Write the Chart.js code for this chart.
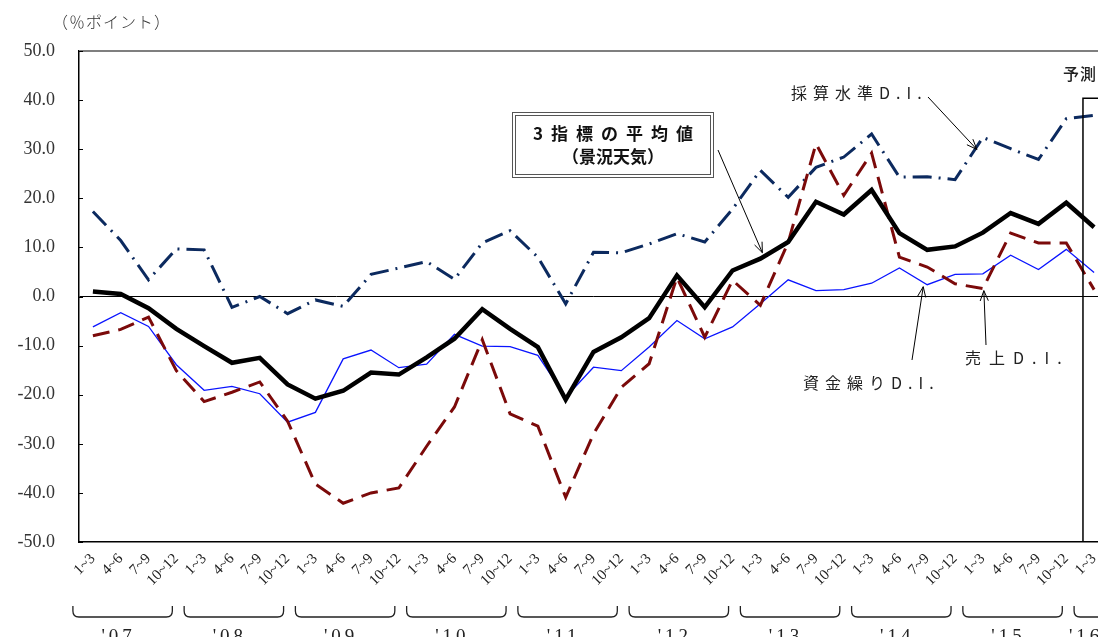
<!DOCTYPE html>
<html>
<head>
<meta charset="utf-8">
<script src="https://cdn.jsdelivr.net/npm/chart.js@4.4.1/dist/chart.umd.min.js"></script>
<style>
  html, body { margin: 0; padding: 0; background: #fff; overflow: hidden; }
  #wrap { width: 1108px; height: 637px; }
</style>
</head>
<body>
<div id="wrap"><canvas id="diChart" width="1108" height="637"></canvas></div>
<script>
// quarters from '07 1~3 to '16 1~3
const years = ["'07", "'08", "'09", "'10", "'11", "'12", "'13", "'14", "'15", "'16"];
const quarterNames = ['1~3', '4~6', '7~9', '10~12'];

// 3指標の平均値（景況天気）
const weather = [1.0, 0.5, -2.4, -6.6, -10.1, -13.5, -12.5, -17.9, -20.8, -19.2, -15.5, -15.9,
  -12.4, -8.6, -2.6, -6.6, -10.3, -21.0, -11.3, -8.3, -4.4, 4.3, -2.2, 5.3,
  7.7, 11.1, 19.3, 16.7, 21.7, 12.9, 9.5, 10.2, 13.0, 17.0, 14.8, 19.1, 14.1];
// 売上D.I.
const sales = [-8.0, -6.7, -4.2, -15.1, -21.4, -19.5, -17.4, -25.4, -38.2, -42.1, -40.0, -39.0,
  -30.5, -22.5, -8.8, -23.9, -26.4, -40.9, -28.0, -18.5, -13.7, 3.9, -8.3, 3.3,
  -1.8, 11.0, 31.1, 20.6, 29.2, 8.0, 6.0, 2.6, 1.6, 12.9, 10.9, 10.9, 1.4];
// 資金繰りD.I.
const cash = [-6.2, -3.3, -6.1, -13.9, -19.1, -18.3, -19.8, -25.6, -23.6, -12.7, -10.9, -14.5,
  -13.8, -7.7, -10.1, -10.2, -12.0, -20.5, -14.4, -15.1, -10.3, -4.9, -8.6, -6.2,
  -1.5, 3.4, 1.2, 1.4, 2.7, 5.8, 2.4, 4.5, 4.6, 8.4, 5.5, 9.6, 4.9];
// 採算水準D.I.
const profit = [17.3, 11.4, 3.4, 9.7, 9.5, -2.2, 0.0, -3.5, -0.7, -2.0, 4.5, 5.8,
  7.1, 3.5, 10.9, 13.4, 8.0, -1.5, 9.0, 8.9, 10.7, 12.8, 11.1, 17.8,
  25.7, 20.2, 26.3, 28.4, 33.1, 24.3, 24.4, 23.8, 32.4, 30.1, 27.9, 36.2, 36.9];

const labels = [];
years.forEach(y => quarterNames.forEach(q => labels.push(q)));
labels.length = weather.length;

const serif = '"Liberation Serif", "DejaVu Serif", serif';
const jp = '"Noto Sans CJK JP", sans-serif';

function arrow(ctx, x1, y1, x2, y2) {
  const a = Math.atan2(y2 - y1, x2 - x1);
  const h = 11, w = 0.38;
  ctx.beginPath();
  ctx.moveTo(x1, y1);
  ctx.lineTo(x2, y2);
  ctx.moveTo(x2 - h * Math.cos(a - w), y2 - h * Math.sin(a - w));
  ctx.lineTo(x2, y2);
  ctx.lineTo(x2 - h * Math.cos(a + w), y2 - h * Math.sin(a + w));
  ctx.stroke();
}

function label(ctx, text, x, y, size, spacing, weight) {
  ctx.font = (weight || 'normal') + ' ' + size + 'px ' + jp;
  ctx.letterSpacing = spacing + 'px';
  ctx.fillText(text, x, y);
  ctx.letterSpacing = '0px';
}

// frame, brackets, year labels and call-outs
const decorations = {
  id: 'decorations',
  afterDraw(chart) {
    const ctx = chart.ctx;
    const xs = chart.scales.x, ys = chart.scales.y;
    const area = chart.chartArea;
    const pt = (i, v) => [xs.getPixelForValue(i), ys.getPixelForValue(v)];
    ctx.save();

    // top border
    ctx.strokeStyle = '#7f7f7f';
    ctx.lineWidth = 2;
    ctx.beginPath();
    ctx.moveTo(area.left, area.top);
    ctx.lineTo(chart.width, area.top);
    ctx.stroke();

    // inward y ticks
    ctx.strokeStyle = '#000';
    ctx.lineWidth = 1;
    ys.ticks.forEach(t => {
      const y = Math.round(ys.getPixelForValue(t.value)) + 0.5;
      ctx.beginPath();
      ctx.moveTo(area.left, y);
      ctx.lineTo(area.left + 4, y);
      ctx.stroke();
    });

    // unit
    ctx.fillStyle = '#333';
    ctx.textAlign = 'left';
    ctx.textBaseline = 'middle';
    label(ctx, '（％ポイント）', 52, 22, 16, 1, '300');

    // year brackets
    ctx.strokeStyle = '#222';
    ctx.lineWidth = 1.3;
    const top = 606, bot = 617;
    years.forEach((yr, k) => {
      const first = k * 4;
      const last = Math.min(first + 3, labels.length - 1);
      const x1 = xs.getPixelForValue(first) - 20;
      const x2 = last > first ? xs.getPixelForValue(last) - 4 : x1 + 120;
      ctx.beginPath();
      ctx.moveTo(x1, top);
      ctx.lineTo(x1, bot - 6);
      ctx.quadraticCurveTo(x1, bot, x1 + 6, bot);
      ctx.lineTo(x2 - 6, bot);
      ctx.quadraticCurveTo(x2, bot, x2, bot - 6);
      ctx.lineTo(x2, top);
      ctx.stroke();
      ctx.fillStyle = '#222';
      ctx.textAlign = 'center';
      ctx.textBaseline = 'alphabetic';
      ctx.font = '19px ' + serif;
      ctx.letterSpacing = '4px';
      const cx = last > first ? (x1 + x2) / 2 - 4 : x1 + 12;
      ctx.fillText(yr, cx, 642);
      ctx.letterSpacing = '0px';
    });

    // forecast bracket
    const fx = xs.getPixelForValue(35.6);
    const fy = ys.getPixelForValue(40.4);
    ctx.strokeStyle = '#000';
    ctx.lineWidth = 1.5;
    ctx.beginPath();
    ctx.moveTo(fx, area.bottom);
    ctx.lineTo(fx, fy);
    ctx.lineTo(chart.width, fy);
    ctx.stroke();
    ctx.fillStyle = '#222';
    ctx.textAlign = 'left';
    ctx.textBaseline = 'middle';
    label(ctx, '予測', 1063, 74, 16, 1, '500');

    // average box
    ctx.strokeStyle = '#555';
    ctx.lineWidth = 1;
    ctx.strokeRect(512.5, 112.5, 201, 65);
    ctx.strokeRect(515.5, 115.5, 195, 59);
    ctx.fillStyle = '#111';
    ctx.textAlign = 'center';
    label(ctx, '3指標の平均値', 617, 134, 17, 8, 'bold');
    label(ctx, '（景況天気）', 613, 157, 17, 0, 'bold');

    ctx.strokeStyle = '#000';
    ctx.lineWidth = 1;
    let [px, py] = pt(24, weather[24]);
    arrow(ctx, 718, 150, px + 2, py - 6);

    ctx.fillStyle = '#222';
    ctx.textAlign = 'left';
    label(ctx, '採算水準D.I.', 791, 93, 16, 6);
    [px, py] = pt(32, profit[32]);
    arrow(ctx, 928, 97, px - 6, py + 12);

    label(ctx, '売上D.I.', 965, 358, 16, 8);
    [px, py] = pt(32, sales[32]);
    arrow(ctx, 986, 345, px + 1, py + 2);

    label(ctx, '資金繰りD.I.', 803, 383, 16, 6);
    [px, py] = pt(30, cash[30]);
    arrow(ctx, 912, 360, px - 4, py + 2);

    ctx.restore();
  }
};

new Chart(document.getElementById('diChart'), {
  type: 'line',
  data: {
    labels: labels,
    datasets: [
      { label: '3指標の平均値（景況天気）', data: weather, borderColor: '#000', borderWidth: 4.5 },
      { label: '売上D.I.', data: sales, borderColor: '#7b0a0a', borderWidth: 3, borderDash: [17, 9] },
      { label: '資金繰りD.I.', data: cash, borderColor: '#0a14ff', borderWidth: 1.3 },
      { label: '採算水準D.I.', data: profit, borderColor: '#0c2a5f', borderWidth: 3, borderDash: [19, 7, 2, 7] }
    ]
  },
  options: {
    responsive: false,
    animation: false,
    elements: { point: { radius: 0 }, line: { tension: 0, borderCapStyle: 'butt', borderJoinStyle: 'miter' } },
    layout: { padding: { top: 51, left: 0, right: 0, bottom: 0 } },
    plugins: { legend: { display: false }, tooltip: { enabled: false } },
    scales: {
      x: {
        offset: true,
        afterFit: s => { s.height = 95; s.paddingLeft = 0; s.paddingRight = 0; },
        grid: { display: false, drawTicks: false },
        border: { color: '#000', width: 1.5 },
        ticks: {
          autoSkip: false, maxRotation: 45, minRotation: 45, padding: 8,
          color: '#222', font: { family: serif, size: 15 }
        }
      },
      y: {
        min: -50, max: 50,
        afterFit: s => { s.width = 79; },
        grid: {
          drawTicks: false,
          color: c => (c.tick && c.tick.value === 0 ? '#000' : 'rgba(0,0,0,0)'),
          lineWidth: 1
        },
        border: { color: '#000', width: 1.5 },
        ticks: {
          stepSize: 10, padding: 24, color: '#333',
          font: { family: serif, size: 18 },
          callback: v => v.toFixed(1)
        }
      }
    }
  },
  plugins: [decorations]
});
</script>
</body>
</html>
